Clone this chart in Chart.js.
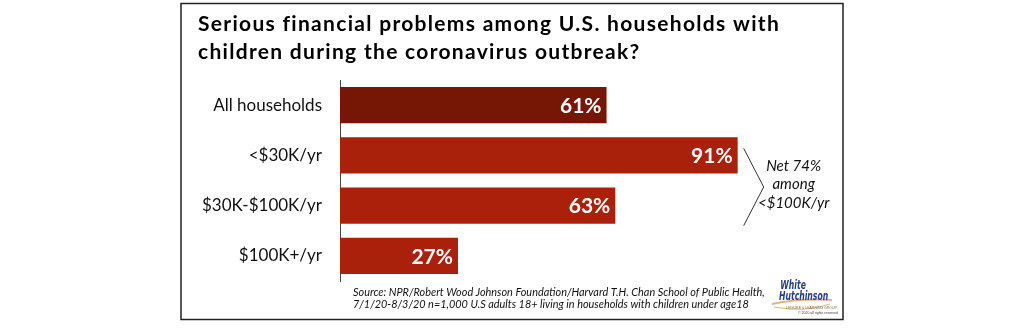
<!DOCTYPE html>
<html>
<head>
<meta charset="utf-8">
<script src="https://cdn.jsdelivr.net/npm/chart.js@4/dist/chart.umd.min.js"></script>
<style>
  html, body { margin: 0; padding: 0; background: #fff; }
  #wrap { width: 1024px; height: 328px; }
</style>
</head>
<body>
<div id="wrap"><canvas id="finChart"></canvas></div>
<script>
const categories = ["All households", "<$30K/yr", "$30K-$100K/yr", "$100K+/yr"];
const shares = [61, 91, 63, 27];
const barColors = ["#761705", "#a9210b", "#a9210b", "#a9210b"];
const titleLines = [
    "Serious financial problems among U.S. households with",
    "children during the coronavirus outbreak?",
];
const noteLines = ["Net 74%", "among", "<$100K/yr"];
const sourceLines = [
    "Source: NPR/Robert Wood Johnson Foundation/Harvard T.H. Chan School of Public Health,",
    "7/1/20-8/3/20 n=1,000 U.S adults 18+ living in households with children under age18",
];

Chart.defaults.font.family = "Lato, 'Noto Sans', sans-serif";
Chart.defaults.color = "#111";

// percentage labels inside the bar ends
const valueLabels = {
    id: "valueLabels",
    afterDatasetsDraw(chart) {
        const ctx = chart.ctx;
        const meta = chart.getDatasetMeta(0);
        ctx.save();
        ctx.font = "bold 21px Lato, sans-serif";
        ctx.fillStyle = "#fff";
        ctx.textAlign = "right";
        ctx.textBaseline = "middle";
        meta.data.forEach((bar, i) => {
            ctx.fillText(shares[i] + "%", bar.x - 5, bar.y + 1);
        });
        ctx.restore();
    },
};

// frame, heading, bracket note, source line and logo
const extras = {
    id: "extras",
    afterDraw(chart) {
        const ctx = chart.ctx;
        const x = chart.scales.x;
        const meta = chart.getDatasetMeta(0);
        ctx.save();

        ctx.strokeStyle = "#222";
        ctx.lineWidth = 1.5;
        ctx.strokeRect(181, 3.5, 662, 316);

        // heading, spaced out a little
        ctx.fillStyle = "#000";
        ctx.font = "bold 21px Lato, sans-serif";
        ctx.textAlign = "left";
        ctx.textBaseline = "middle";
        ctx.letterSpacing = "1.3px";
        titleLines.forEach((t, i) => ctx.fillText(t, 198, 24 + i * 28));
        ctx.letterSpacing = "0px";

        // bracket round the two lower-income bars
        const b1 = meta.data[1], b2 = meta.data[2];
        const bx = x.getPixelForValue(shares[1]) + 6;
        const top = b1.y - b1.height / 2 + 11;
        const bot = b2.y + b2.height / 2 + 2;
        const mid = (top + bot) / 2;
        ctx.strokeStyle = "#333";
        ctx.lineWidth = 1;
        ctx.beginPath();
        ctx.moveTo(bx, top);
        ctx.lineTo(bx + 20, mid);
        ctx.lineTo(bx, bot);
        ctx.stroke();

        ctx.fillStyle = "#111";
        ctx.font = "italic 15px Lato, sans-serif";
        ctx.textAlign = "center";
        noteLines.forEach((t, i) => ctx.fillText(t, bx + 50, mid - 21 + i * 18.5));

        ctx.font = "italic 10.9px Lato, sans-serif";
        ctx.textAlign = "left";
        sourceLines.forEach((t, i) => ctx.fillText(t, 353, 292 + i * 12.5));

        // logo
        ctx.strokeStyle = "#d9b58a";
        ctx.lineWidth = 2;
        ctx.beginPath();
        ctx.moveTo(772, 304);
        ctx.quadraticCurveTo(800, 298, 832, 300);
        ctx.stroke();
        ctx.lineWidth = 1;
        ctx.beginPath();
        ctx.moveTo(774, 307);
        ctx.quadraticCurveTo(805, 313, 830, 304);
        ctx.stroke();

        ctx.save();
        ctx.translate(779, 0);
        ctx.scale(0.66, 1);
        ctx.fillStyle = "#2b3c80";
        ctx.font = "italic bold 13px 'Liberation Sans Narrow', 'DejaVu Sans Condensed', sans-serif";
        ctx.textAlign = "left";
        ctx.textBaseline = "alphabetic";
        ctx.fillText("White", 2, 289);
        ctx.fillText("Hutchinson", 0, 300);
        ctx.restore();

        ctx.fillStyle = "#8a6a4a";
        ctx.font = "3.5px sans-serif";
        ctx.fillText("LEISURE & LEARNING GROUP", 786, 308);
        ctx.fillStyle = "#444";
        ctx.fillText("© 2020 all rights reserved", 798, 313);

        ctx.restore();
    },
};

new Chart(document.getElementById("finChart"), {
    type: "bar",
    data: {
        labels: categories,
        datasets: [
            {
                data: shares,
                backgroundColor: barColors,
                borderWidth: 0,
                categoryPercentage: 1,
                barPercentage: 0.72,
            },
        ],
    },
    options: {
        indexAxis: "y",
        responsive: true,
        maintainAspectRatio: false,
        animation: false,
        layout: {
            padding: { left: 188, right: 247, top: 80, bottom: 47 },
        },
        scales: {
            x: { display: false, min: 0, max: 100 },
            y: {
                grid: { display: false, drawTicks: false },
                border: { display: true, color: "#444", width: 1 },
                ticks: {
                    padding: 18,
                    color: "#111",
                    font: { size: 17 },
                },
                afterFit(scale) {
                    scale.width = 152;
                },
            },
        },
        plugins: {
            legend: { display: false },
            tooltip: { enabled: false },
        },
    },
    plugins: [valueLabels, extras],
});
</script>
</body>
</html>
